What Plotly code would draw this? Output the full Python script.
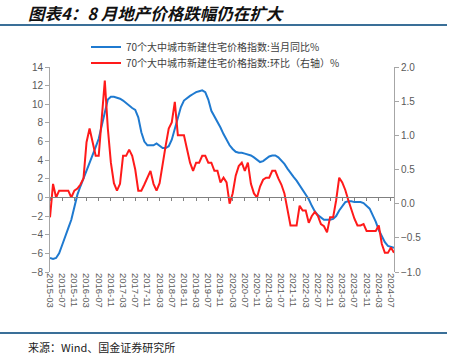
import plotly.graph_objects as go
import pandas as pd

months = [d.strftime("%Y-%m") for d in pd.date_range("2015-03-01", "2024-08-01", freq="MS")]

yoy = [-6.5, -6.6, -6.5, -6.0, -5.1, -4.3, -3.3, -2.4, -0.9, 0.3,
       1.2, 2.0, 2.8, 3.6, 4.5, 5.4, 6.3, 7.6, 9.2, 10.5,
       10.8, 10.8, 10.7, 10.6, 10.4, 10.1, 9.8, 9.6, 9.4, 8.6,
       7.0, 6.0, 5.6, 5.6, 5.6, 5.8, 5.5, 5.3, 5.3, 5.5,
       6.2, 7.3, 8.6, 9.7, 10.4, 10.7, 10.9, 11.1, 11.3, 11.4,
       11.5, 11.3, 10.5, 9.3, 8.7, 8.2, 7.5, 6.8, 6.2, 5.6,
       5.2, 4.9, 4.8, 4.8, 4.7, 4.6, 4.5, 4.3, 4.0, 3.8,
       3.9, 4.2, 4.4, 4.5, 4.5, 4.3, 4.0, 3.6, 3.1, 2.6,
       2.2, 1.8, 1.3, 0.8, 0.2, -0.2, -0.9, -1.5, -1.9, -2.2,
       -2.4, -2.4, -2.4, -2.3, -2.0, -1.4, -0.9, -0.5, -0.4, -0.4,
       -0.5, -0.5, -0.5, -0.6, -0.9, -1.2, -1.9, -2.6, -3.5, -4.2,
       -4.8, -5.2, -5.3, -5.4]

mom = [-0.2, 0.29, 0.09, 0.19, 0.19, 0.19, 0.19, 0.09, 0.19, 0.22,
       0.28, 0.37, 0.9, 1.1, 0.9, 0.7, 0.7, 1.2, 1.8, 1.1,
       0.6, 0.3, 0.19, 0.29, 0.7, 0.7, 0.79, 0.7, 0.5, 0.19,
       0.19, 0.28, 0.37, 0.48, 0.29, 0.19, 0.3, 0.6, 0.85, 1.1,
       1.19, 1.49, 1.0, 1.0, 1.0, 0.8, 0.6, 0.48, 0.6, 0.6,
       0.7, 0.7, 0.6, 0.6, 0.48, 0.48, 0.31, 0.38, 0.31, 0.0,
       0.15, 0.41, 0.55, 0.6, 0.48, 0.6, 0.29, 0.15, 0.09, 0.25,
       0.35, 0.38, 0.38, 0.48, 0.48, 0.37, 0.28, 0.15, -0.07, -0.32,
       -0.32, -0.32, -0.03, -0.1, -0.1, -0.28, -0.18, -0.12, -0.18, -0.3,
       -0.33, -0.42, -0.2, -0.2, 0.05, 0.38, 0.31, 0.2, 0.05, -0.1,
       -0.22, -0.32, -0.32, -0.3, -0.4, -0.4, -0.4, -0.4, -0.32, -0.59,
       -0.72, -0.72, -0.64, -0.72]

tick_labels = months[::4]

name_yoy = "70个大中城市新建住宅价格指数:当月同比%"
name_mom = "70个大中城市新建住宅价格指数:环比（右轴）%"

CJK = "Noto Sans CJK SC"
GREY = "#595959"
AXC = "#a6a6a6"


def px_x(p):
    return (p - 50) / 344


def px_y(p):
    return (272 - p) / 205


fig = go.Figure()
fig.add_trace(go.Scatter(x=months, y=yoy, name=name_yoy, mode="lines",
                         line=dict(color="#1f7ad0", width=2), xaxis="x", yaxis="y",
                         legend="legend"))
fig.add_trace(go.Scatter(x=months, y=mom, name=name_mom, mode="lines",
                         line=dict(color="#ff1a1a", width=2), xaxis="x", yaxis="y2",
                         legend="legend2"))
# empty helper trace so the zero-line axis (x2) is drawn
fig.add_trace(go.Scatter(x=months, y=[None] * len(months), xaxis="x2", yaxis="y",
                         showlegend=False, hoverinfo="skip", mode="lines"))

zero_pos = 8 / 22

leg_common = dict(xanchor="left", yanchor="middle",
                  font=dict(family=CJK, size=10, color="#404040"),
                  bgcolor="rgba(0,0,0,0)", itemwidth=30)

fig.update_layout(
    width=450, height=357,
    margin=dict(l=50, r=56, t=67, b=85, autoexpand=False),
    paper_bgcolor="white", plot_bgcolor="white",
    font=dict(family=CJK, color=GREY, size=10),
    showlegend=True,
    legend=dict(x=px_x(86), y=px_y(47), **leg_common),
    legend2=dict(x=px_x(86), y=px_y(63), **leg_common),
    xaxis=dict(type="category", categoryorder="array", categoryarray=months,
               range=[0, len(months) - 1], automargin=False,
               tickmode="array", tickvals=tick_labels, ticktext=tick_labels,
               tickangle=90, tickfont=dict(family="Liberation Sans", size=9.5, color=GREY),
               showline=False, ticks="", showgrid=False, zeroline=False),
    xaxis2=dict(type="category", categoryorder="array", categoryarray=months,
                range=[0, len(months) - 1], overlaying="x", anchor="free", position=zero_pos,
                tickmode="array", tickvals=tick_labels, showticklabels=False,
                showline=True, linecolor="#808080", linewidth=1, automargin=False,
                ticks="outside", ticklen=3, tickcolor="#808080",
                showgrid=False, zeroline=False),
    yaxis=dict(range=[-8, 14], dtick=2, automargin=False,
               tickfont=dict(family="Liberation Sans", size=10, color=GREY),
               showline=True, linecolor=AXC, linewidth=1, ticks="outside", ticklen=4,
               tickcolor=AXC, showgrid=False, zeroline=False),
    yaxis2=dict(range=[-1, 2], dtick=0.5, tickformat=".1f", overlaying="y", side="right",
                anchor="x", automargin=False,
                tickfont=dict(family="Liberation Sans", size=10, color=GREY),
                showline=True, linecolor=AXC, linewidth=1, ticks="outside", ticklen=4,
                tickcolor=AXC, showgrid=False, zeroline=False),
)

fig.add_shape(type="line", xref="paper", yref="paper", x0=px_x(0), x1=px_x(447),
              y0=px_y(25), y1=px_y(25), line=dict(color="#3a6f98", width=2))
fig.add_shape(type="line", xref="paper", yref="paper", x0=px_x(0), x1=px_x(447),
              y0=px_y(333), y1=px_y(333), line=dict(color="#3a6f98", width=2))

fig.add_annotation(text="<b><i>图表4：8 月地产价格跌幅仍在扩大</i></b>", xref="paper", yref="paper",
                   x=px_x(26), y=px_y(13), xanchor="left", yanchor="middle", showarrow=False,
                   font=dict(family=CJK, size=16.5, color="#111111"))
fig.add_annotation(text="来源：Wind、国金证券研究所", xref="paper", yref="paper",
                   x=px_x(26), y=px_y(347), xanchor="left", yanchor="middle", showarrow=False,
                   font=dict(family=CJK, size=11, color="#222222"))

fig.write_html("out.html",
               config={"displayModeBar": False},
               post_script="document.body.style.margin='0';document.body.style.overflow='hidden';")
